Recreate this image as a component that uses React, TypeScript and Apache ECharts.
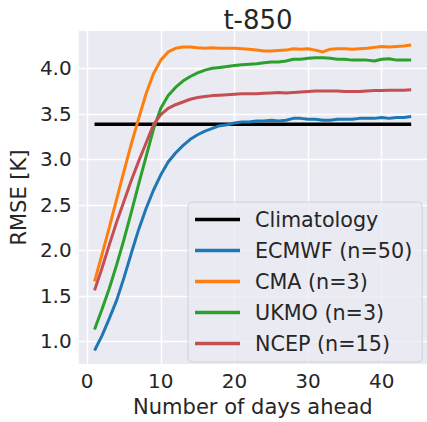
import React, { useEffect, useRef } from "react";
import * as echarts from "echarts";

const days = [1, 2, 3, 4, 5, 6, 7, 8, 9, 10, 11, 12, 13, 14, 15, 16, 17, 18, 19, 20, 21, 22, 23, 24, 25, 26, 27, 28, 29, 30, 31, 32, 33, 34, 35, 36, 37, 38, 39, 40, 41, 42, 43, 44];

const climatologyDays = [1, 44];
const climatologyValues = [3.385, 3.385];

const ecmwf = [0.9, 1.06, 1.25, 1.45, 1.7, 1.97, 2.23, 2.46, 2.66, 2.83, 2.97, 3.07, 3.15, 3.22, 3.27, 3.31, 3.34, 3.37, 3.38, 3.4, 3.41, 3.41, 3.42, 3.42, 3.43, 3.42, 3.43, 3.45, 3.45, 3.44, 3.44, 3.43, 3.43, 3.44, 3.44, 3.44, 3.45, 3.45, 3.45, 3.46, 3.45, 3.46, 3.46, 3.47];

const cma = [1.66, 1.95, 2.25, 2.56, 2.87, 3.17, 3.45, 3.72, 3.94, 4.09, 4.18, 4.22, 4.235, 4.235, 4.225, 4.22, 4.225, 4.22, 4.22, 4.22, 4.215, 4.21, 4.2, 4.19, 4.19, 4.195, 4.2, 4.215, 4.21, 4.215, 4.2, 4.18, 4.21, 4.215, 4.215, 4.21, 4.215, 4.22, 4.23, 4.24, 4.235, 4.24, 4.245, 4.255];

const ukmo = [1.13, 1.35, 1.58, 1.84, 2.12, 2.42, 2.73, 3.03, 3.33, 3.56, 3.7, 3.79, 3.86, 3.91, 3.95, 3.98, 4.0, 4.01, 4.02, 4.03, 4.04, 4.045, 4.05, 4.06, 4.07, 4.07, 4.08, 4.1, 4.1, 4.11, 4.115, 4.115, 4.11, 4.1, 4.1, 4.09, 4.09, 4.09, 4.08, 4.1, 4.105, 4.09, 4.09, 4.09];

const ncep = [1.56, 1.8, 2.06, 2.31, 2.54, 2.77, 2.98, 3.18, 3.38, 3.49, 3.56, 3.6, 3.63, 3.66, 3.68, 3.69, 3.7, 3.705, 3.71, 3.715, 3.72, 3.72, 3.72, 3.725, 3.73, 3.735, 3.73, 3.735, 3.74, 3.745, 3.75, 3.75, 3.75, 3.75, 3.745, 3.745, 3.745, 3.75, 3.755, 3.755, 3.76, 3.76, 3.76, 3.765];

const xTicks = [0, 10, 20, 30, 40];
const yTicks = [1.0, 1.5, 2.0, 2.5, 3.0, 3.5, 4.0];

const seriesNames = ["Climatology", "ECMWF (n=50)", "CMA (n=3)", "UKMO (n=3)", "NCEP (n=15)"];
const seriesColors = ["#000000", "#1f77b4", "#ff7f0e", "#2ca02c", "#c44e52"];

export default function App() {
  const ref = useRef<HTMLDivElement>(null);
  useEffect(() => {
    document.body.style.margin = "0";
    const chart = echarts.init(ref.current!, null, { renderer: "svg" });
    const font = "DejaVu Sans";
    const txt = "#262626";
    const mk = (i: number, xs: number[], vals: number[], width: number) => ({
      type: "line",
      name: seriesNames[i],
      data: xs.map((d, k) => [d, vals[k]]),
      symbol: "none",
      showSymbol: false,
      color: seriesColors[i],
      itemStyle: { color: seriesColors[i] },
      lineStyle: { color: seriesColors[i], width },
      z: 2 + i,
    });
    chart.setOption({
      animation: false,
      backgroundColor: "#ffffff",
      title: {
        text: "t-850",
        left: 253,
        top: 2,
        textAlign: "center",
        textStyle: { fontFamily: font, fontSize: 26, fontWeight: "normal", color: txt },
      },
      grid: {
        left: 73.8,
        right: -5.8,
        top: 31,
        bottom: 50,
        show: true,
        backgroundColor: "#EAEAF2",
        borderWidth: 0,
        containLabel: false,
      },
      legend: {
        orient: "vertical",
        left: 188,
        top: 202,
        padding: [7, 10, 8, 7],
        itemGap: 10,
        itemWidth: 45,
        itemHeight: 3.5,
        icon: "rect",
        backgroundColor: "rgba(234,234,242,0.8)",
        borderColor: "rgba(204,204,204,0.8)",
        borderWidth: 1,
        borderRadius: 4,
        textStyle: { fontFamily: font, fontSize: 20.7, color: txt, padding: [0, 0, 0, 10] },
        data: seriesNames,
      },
      xAxis: {
        type: "value",
        min: -1.15,
        max: 46.15,
        name: "Number of days ahead",
        nameLocation: "middle",
        nameGap: 28,
        nameTextStyle: { fontFamily: font, fontSize: 21, color: txt },
        axisLine: { show: false },
        axisTick: { show: false, customValues: xTicks },
        axisLabel: { customValues: xTicks, fontFamily: font, fontSize: 20, color: txt, margin: 7 },
        splitLine: { show: true, lineStyle: { color: "#ffffff", width: 1.4 } },
      },
      yAxis: {
        type: "value",
        min: 0.75,
        max: 4.41,
        name: "RMSE [K]",
        nameLocation: "middle",
        nameGap: 39,
        nameTextStyle: { fontFamily: font, fontSize: 21, color: txt },
        axisLine: { show: false },
        axisTick: { show: false, customValues: yTicks },
        axisLabel: {
          customValues: yTicks,
          fontFamily: font,
          fontSize: 20,
          color: txt,
          margin: 7,
          formatter: (v: number) => v.toFixed(1),
        },
        splitLine: { show: true, lineStyle: { color: "#ffffff", width: 1.4 } },
      },
      series: [
        mk(0, climatologyDays, climatologyValues, 3.6),
        mk(1, days, ecmwf, 3),
        mk(2, days, cma, 3),
        mk(3, days, ukmo, 3),
        mk(4, days, ncep, 3),
      ],
    });
    return () => chart.dispose();
  }, []);
  return <div ref={ref} style={{ position: "absolute", left: 0, top: 0, width: 427, height: 422 }} />;
}
